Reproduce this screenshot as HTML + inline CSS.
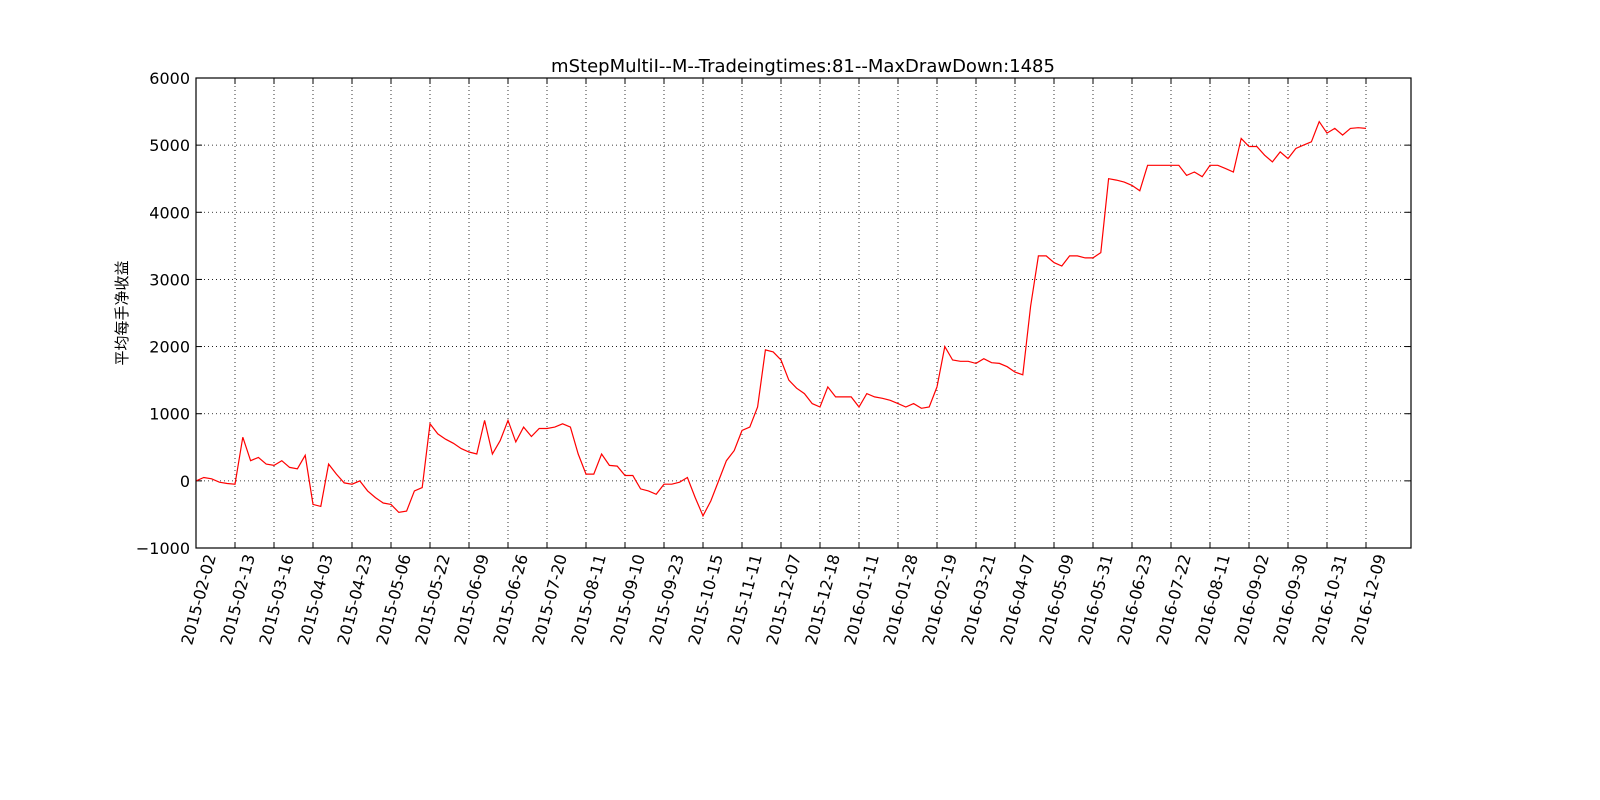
<!DOCTYPE html>
<html><head><meta charset="utf-8"><style>
html,body{margin:0;padding:0;background:#fff;width:1600px;height:800px;overflow:hidden}
svg text{font-family:"DejaVu Sans","Liberation Sans","Noto Sans CJK SC",sans-serif}
</style></head><body>
<svg id="chart" width="1600" height="800" xmlns="http://www.w3.org/2000/svg">
<rect width="1600" height="800" fill="#fff"/>
<text x="803" y="72" font-size="18" text-anchor="middle">mStepMultiI--M--Tradeingtimes:81--MaxDrawDown:1485</text>
<text transform="translate(127,313) rotate(-90)" font-size="15" text-anchor="middle" style='font-family:"Noto Sans CJK SC",sans-serif'>平均每手净收益</text>
<g id="grid"></g><g id="ticks"></g>
<path id="line" fill="none" stroke="#ff0000" stroke-width="1.2"/>
<rect x="196" y="78" width="1215" height="470" fill="none" stroke="#000" stroke-width="1.2"/>
</svg>
<script>
const dateLabels=["2015-02-02","2015-02-13","2015-03-16","2015-04-03","2015-04-23","2015-05-06","2015-05-22","2015-06-09","2015-06-26","2015-07-20","2015-08-11","2015-09-10","2015-09-23","2015-10-15","2015-11-11","2015-12-07","2015-12-18","2016-01-11","2016-01-28","2016-02-19","2016-03-21","2016-04-07","2016-05-09","2016-05-31","2016-06-23","2016-07-22","2016-08-11","2016-09-02","2016-09-30","2016-10-31","2016-12-09"];
const yTicks=[-1000,0,1000,2000,3000,4000,5000,6000];
const profit=[0,50,30,-20,-40,-50,650,300,350,250,230,300,200,180,380,-350,-380,250,100,-30,-50,0,-150,-250,-330,-350,-470,-450,-150,-100,850,700,620,560,480,430,400,900,400,600,900,580,800,660,780,780,800,850,800,400,100,100,400,230,220,80,80,-120,-150,-200,-50,-50,-20,50,-250,-520,-300,0,300,450,750,800,1100,1950,1920,1800,1500,1380,1300,1150,1100,1400,1250,1250,1250,1100,1300,1250,1230,1200,1150,1100,1150,1080,1100,1400,2000,1800,1780,1780,1750,1820,1760,1750,1700,1620,1580,2600,3350,3350,3250,3200,3350,3350,3320,3320,3400,4500,4480,4450,4400,4320,4700,4700,4700,4700,4700,4550,4600,4530,4700,4700,4650,4600,5100,4980,4980,4850,4750,4900,4800,4950,5000,5050,5350,5180,5250,5150,5250,5260,5250];
const X0=196,X1=1411,Y0=548,Y1=78,perTick=5,xMax=(1411-196)/7.8;
const xs=i=>X0+(X1-X0)*i/xMax;
const ys=v=>Y0+(Y1-Y0)*(v+1000)/7000;
const NS="http://www.w3.org/2000/svg";
const grid=document.getElementById('grid'),ticks=document.getElementById('ticks');
function mk(tag,attrs,parent){const e=document.createElementNS(NS,tag);for(const k in attrs)e.setAttribute(k,attrs[k]);parent.appendChild(e);return e;}
yTicks.forEach(v=>{const y=ys(v);
 if(v>-1000&&v<6000){const g=mk('line',{x1:X0,x2:X1,y1:y,y2:y,stroke:'#000','stroke-width':0.8,'stroke-dasharray':'1,3'},grid);
 
 }
 mk('line',{x1:X0,x2:X0+6,y1:y,y2:y,stroke:'#000'},ticks);mk('line',{x1:X1-6,x2:X1,y1:y,y2:y,stroke:'#000'},ticks);
 const t=mk('text',{x:X0-6,y:y+6,'font-size':16,'text-anchor':'end'},ticks);t.textContent=v<0?'\u2212'+Math.abs(v):String(v);
 
 
});
dateLabels.forEach((d,k)=>{const x=xs(k*perTick);
 if(k>0){const g=mk('line',{x1:x,x2:x,y1:Y1,y2:Y0,stroke:'#000','stroke-width':0.8,'stroke-dasharray':'1,3'},grid);
 
 }
 mk('line',{x1:x,x2:x,y1:Y0,y2:Y0-6,stroke:'#000'},ticks);mk('line',{x1:x,x2:x,y1:Y1,y2:Y1+6,stroke:'#000'},ticks);
 const t=mk('text',{transform:`translate(${x+20},${Y0+8}) rotate(-75)`,'font-size':16,'text-anchor':'end'},ticks);t.textContent=d;
 
 
});
document.getElementById('line').setAttribute('d',profit.map((v,i)=>(i?'L':'M')+xs(i).toFixed(1)+','+ys(v).toFixed(1)).join(''));
</script>
</body></html>
